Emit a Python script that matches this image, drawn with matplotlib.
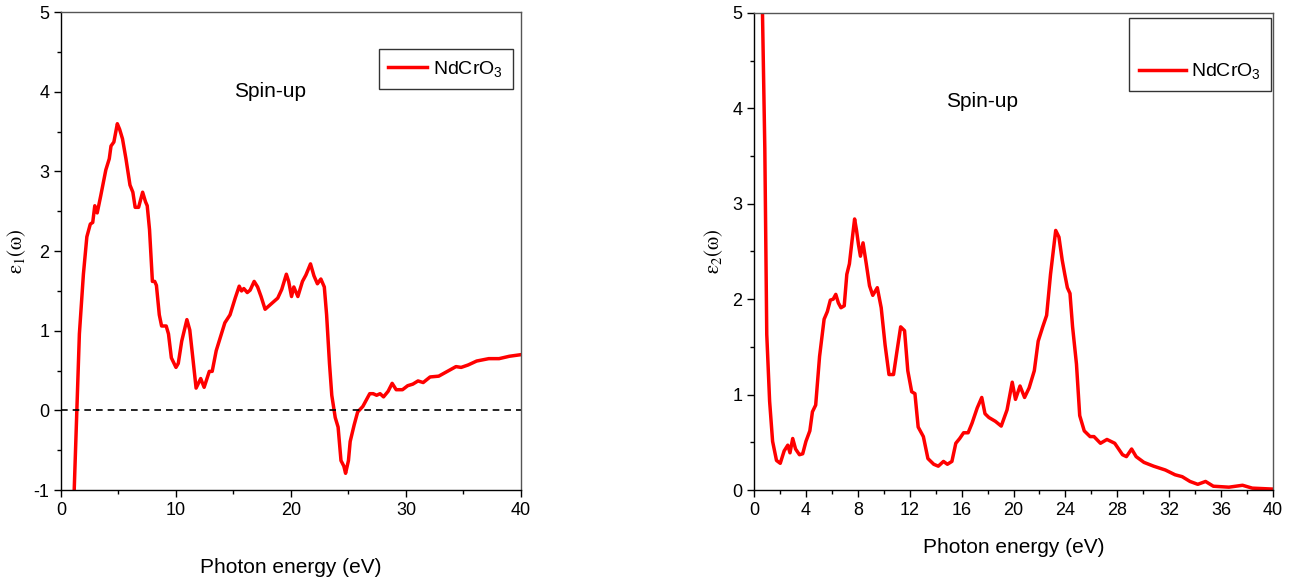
import matplotlib
import matplotlib.pyplot as plt
from matplotlib.ticker import MultipleLocator

matplotlib.use("Agg")

plt.rcParams["font.family"] = ["Liberation Sans", "DejaVu Sans"]
plt.rcParams["mathtext.fontset"] = "stix"

# eps1, spin-up
e1_x = [1.15, 1.38, 1.6, 1.95, 2.25, 2.55, 2.76, 2.94, 3.15, 3.45, 3.9, 4.2, 4.35, 4.6,
        4.9, 5.1, 5.35, 5.65, 6.0, 6.25, 6.45, 6.75, 7.1, 7.35, 7.5, 7.7, 7.95, 8.15,
        8.3, 8.55, 8.75, 9.15, 9.35, 9.6, 10.0, 10.2, 10.5, 10.95, 11.2, 11.45, 11.75,
        12.15, 12.45, 12.9, 13.15, 13.5, 13.8, 14.25, 14.7, 15.15, 15.5, 15.7, 15.9,
        16.2, 16.45, 16.8, 17.1, 17.4, 17.75, 18.3, 18.85, 19.2, 19.6, 19.8, 20.05,
        20.25, 20.6, 21.0, 21.3, 21.7, 22.0, 22.3, 22.6, 22.9, 23.1, 23.35, 23.55,
        23.85, 24.1, 24.35, 24.6, 24.75, 25.0, 25.15, 25.5, 25.8, 26.25, 26.85, 27.15,
        27.45, 27.75, 28.05, 28.45, 28.8, 29.15, 29.7, 30.15, 30.6, 31.05, 31.5, 32.1,
        32.85, 33.6, 34.35, 34.8, 35.4, 36.15, 37.2, 38.1, 39.0, 40.0]
e1_y = [-1.0, 0.0, 0.96, 1.71, 2.18, 2.34, 2.36, 2.57, 2.48, 2.69, 3.02, 3.16, 3.32, 3.37,
        3.6, 3.53, 3.41, 3.16, 2.83, 2.74, 2.55, 2.55, 2.74, 2.62, 2.57, 2.27, 1.62, 1.62,
        1.57, 1.2, 1.06, 1.06, 0.96, 0.66, 0.54, 0.59, 0.87, 1.14, 1.01, 0.68, 0.28,
        0.40, 0.29, 0.49, 0.49, 0.75, 0.89, 1.10, 1.20, 1.41, 1.56, 1.50, 1.53,
        1.48, 1.51, 1.62, 1.55, 1.43, 1.27, 1.34, 1.41, 1.52, 1.71, 1.62, 1.43,
        1.55, 1.43, 1.62, 1.70, 1.84, 1.69, 1.59, 1.65, 1.55, 1.2, 0.59, 0.19,
        -0.09, -0.21, -0.63, -0.70, -0.79, -0.63, -0.39, -0.18, -0.02, 0.05, 0.21, 0.21,
        0.19, 0.21, 0.17, 0.24, 0.34, 0.26, 0.26, 0.31, 0.33, 0.37, 0.35, 0.42,
        0.43, 0.49, 0.55, 0.54, 0.57, 0.62, 0.65, 0.65, 0.68, 0.70]

# eps2, spin-up
e2_x = [0.6, 0.65, 0.83, 0.98, 1.2, 1.43, 1.73, 2.02, 2.32, 2.6, 2.77, 2.98, 3.2, 3.5,
        3.75, 4.0, 4.3, 4.5, 4.75, 5.05, 5.4, 5.65, 5.88, 6.1, 6.3, 6.5, 6.7, 6.95,
        7.15, 7.35, 7.55, 7.75, 7.9, 8.05, 8.2, 8.4, 8.65, 8.9, 9.15, 9.5, 9.8, 10.1,
        10.4, 10.75, 11.0, 11.3, 11.6, 11.85, 12.15, 12.4, 12.65, 13.05, 13.4, 13.85,
        14.2, 14.6, 14.9, 15.25, 15.55, 15.85, 16.15, 16.5, 16.8, 17.2, 17.55, 17.8,
        18.1, 18.6, 19.05, 19.5, 19.9, 20.15, 20.5, 20.85, 21.2, 21.6, 21.9, 22.25,
        22.55, 22.85, 23.05, 23.25, 23.5, 23.75, 23.95, 24.15, 24.35, 24.55, 24.85,
        25.1, 25.45, 25.9, 26.2, 26.7, 27.2, 27.8, 28.4, 28.7, 29.1, 29.45, 30.05,
        30.8, 31.25, 31.7, 32.45, 33.0, 33.6, 34.2, 34.8, 35.4, 36.6, 37.65, 38.4, 40.0]
e2_y = [6.0, 5.0, 3.58, 1.63, 0.93, 0.51, 0.31, 0.28, 0.41, 0.47, 0.39, 0.54, 0.43, 0.37,
        0.38, 0.51, 0.62, 0.82, 0.89, 1.40, 1.79, 1.87, 1.99, 2.0, 2.05, 1.96, 1.91, 1.93,
        2.26, 2.37, 2.61, 2.84, 2.72, 2.57, 2.45, 2.59, 2.37, 2.14, 2.04, 2.12, 1.91, 1.52,
        1.21, 1.21, 1.44, 1.71, 1.67, 1.25, 1.03, 1.01, 0.66, 0.56, 0.33, 0.27,
        0.25, 0.30, 0.27, 0.30, 0.49, 0.54, 0.60, 0.60, 0.70, 0.86, 0.97, 0.80,
        0.76, 0.72, 0.67, 0.84, 1.13, 0.95, 1.09, 0.97, 1.07, 1.25, 1.56, 1.71,
        1.83, 2.26, 2.49, 2.72, 2.65, 2.41, 2.26, 2.12, 2.06, 1.71, 1.32,
        0.78, 0.62, 0.56, 0.56, 0.49, 0.53, 0.49, 0.37, 0.35, 0.43, 0.35, 0.29,
        0.25, 0.23, 0.21, 0.16, 0.14, 0.09, 0.06, 0.09, 0.04, 0.03, 0.05, 0.02, 0.01]

RED = "#ff0000"
LABEL = r"NdCrO$\mathregular{_3}$"


def style_axes(ax, xmajor, xminor):
    ax.set_xlim(0, 40)
    ax.xaxis.set_major_locator(MultipleLocator(xmajor))
    ax.xaxis.set_minor_locator(MultipleLocator(xminor))
    ax.yaxis.set_major_locator(MultipleLocator(1))
    ax.yaxis.set_minor_locator(MultipleLocator(0.5))
    ax.tick_params(which="major", direction="out", length=5, width=1, labelsize=13)
    ax.tick_params(which="minor", direction="out", length=3, width=1)
    for sp in ax.spines.values():
        sp.set_linewidth(1.0)
    for sp in ("top", "right"):
        ax.spines[sp].set_color("#555555")


def add_legend(ax, anchor, handlelength=2.0, **kw):
    leg = ax.legend(loc="upper right", bbox_to_anchor=anchor, fontsize=14,
                    frameon=True, fancybox=False, handlelength=handlelength,
                    borderpad=0.5, handletextpad=0.3, borderaxespad=0, **kw)
    leg.get_frame().set_edgecolor("black")
    leg.get_frame().set_linewidth(1.0)
    return leg


fig = plt.figure(figsize=(13.03, 5.82), dpi=100)

ax1 = fig.add_axes([0.0468, 0.158, 0.353, 0.821])
ax1.plot(e1_x, e1_y, color=RED, lw=2.5, label=LABEL)
ax1.axhline(0, color="black", lw=1.2, ls="--", dashes=(4, 3))
ax1.set_ylim(-1, 5)
style_axes(ax1, 10, 5)
ax1.set_yticks([-1, 0, 1, 2, 3, 4, 5])
ax1.set_yticklabels(["-1", "0", "1", "2", "3", "4", "5"])
ax1.set_xlabel("Photon energy (eV)", fontsize=15, labelpad=28)
ax1.set_ylabel(r"$\mathrm{\varepsilon_1(\omega)}$", fontsize=15, labelpad=4)
ax1.text(18.2, 4.0, "Spin-up", fontsize=15, ha="center", va="center")
add_legend(ax1, (0.982, 0.922))

ax2 = fig.add_axes([0.5787, 0.158, 0.3983, 0.820])
ax2.plot(e2_x, e2_y, color=RED, lw=2.5, label=LABEL)
ax2.set_ylim(0, 5)
style_axes(ax2, 4, 2)
ax2.set_xlabel("Photon energy (eV)", fontsize=15, labelpad=14)
ax2.set_ylabel(r"$\mathrm{\varepsilon_2(\omega)}$", fontsize=15, labelpad=5)
ax2.text(17.6, 4.07, "Spin-up", fontsize=15, ha="center", va="center")
add_legend(ax2, (0.996, 0.989), handlelength=2.4, title=" ", title_fontsize=19)

fig.savefig("out.png", dpi=100)
plt.close(fig)
